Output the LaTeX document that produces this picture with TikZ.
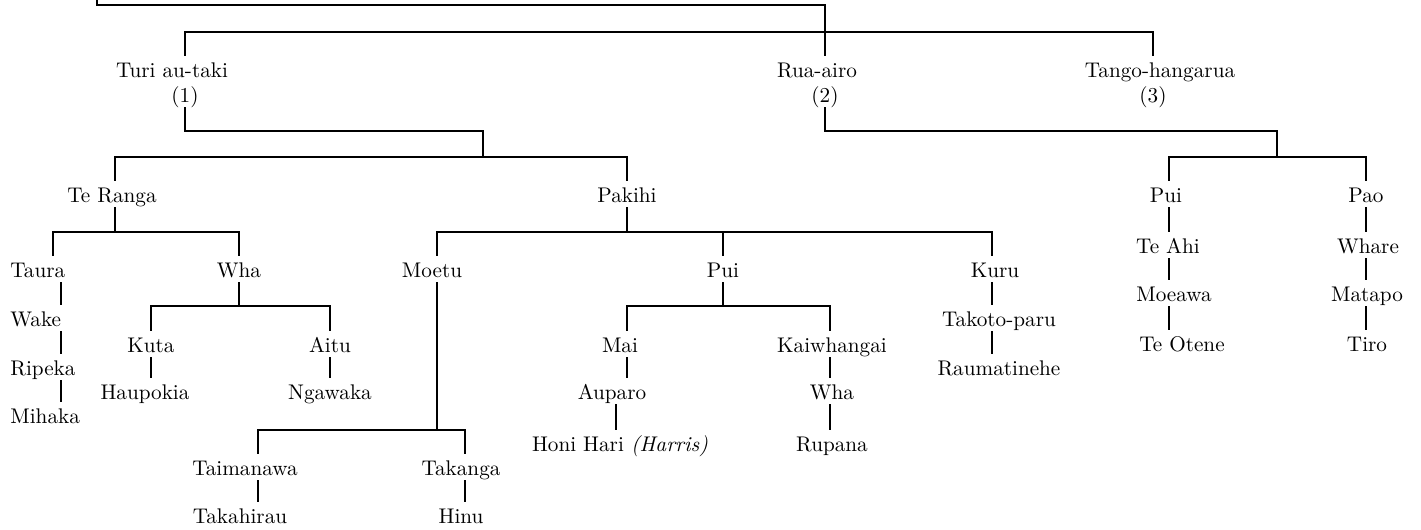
\documentclass[tikz,border=0pt]{standalone}
\usepackage{tikz}

\tikzset{
  who/.style={anchor=base, inner xsep=1pt, inner ysep=2.5pt, text height=8pt, text depth=0pt,
    font=\fontsize{10.6}{12}\selectfont},
  kin/.style={line width=0.95pt},
}

\begin{document}
\begin{tikzpicture}[x=0.5pt,y=-0.5pt]
\useasboundingbox (0,0) rectangle (1421,530);
%
\node[who] (turi) at (172,77) {Turi au-taki};
\node[who] (one) at (185,102) {(1)};
\node[who] (rua) at (817,77) {Rua-airo};
\node[who] (two) at (825,102) {(2)};
\node[who] (tango) at (1160,77) {Tango-hangarua};
\node[who] (three) at (1153,102) {(3)};
%
\node[who] (teranga) at (112,202) {Te Ranga};
\node[who] (pakihi) at (627,202) {Pakihi};
\node[who] (puiB) at (1166,202) {Pui};
\node[who] (pao) at (1366,202) {Pao};
%
\node[who,anchor=base west] (taura) at (8,277) {Taura};
\node[who,anchor=base west] (wake) at (8,326) {Wake};
\node[who,anchor=base west] (ripeka) at (8,375) {Ripeka};
\node[who,anchor=base west] (mihaka) at (8,423) {Mihaka};
\node[who] (wha) at (239,277) {Wha};
\node[who] (kuta) at (151,352) {Kuta};
\node[who] (aitu) at (330,352) {Aitu};
\node[who] (haupokia) at (145,399) {Haupokia};
\node[who] (ngawaka) at (330,399) {Ngawaka};
%
\node[who] (moetu) at (432,277) {Moetu};
\node[who] (taimanawa) at (245,475) {Taimanawa};
\node[who] (takanga) at (461,475) {Takanga};
\node[who] (takahirau) at (240,523) {Takahirau};
\node[who] (hinu) at (461,523) {Hinu};
%
\node[who] (pui) at (723,277) {Pui};
\node[who] (mai) at (620,352) {Mai};
\node[who] (auparo) at (612,399) {Auparo};
\node[who] (honi) at (620,451) {Honi Hari \textit{(Harris)}};
\node[who] (kaiwhangai) at (832,352) {Kaiwhangai};
\node[who] (whaB) at (832,399) {Wha};
\node[who] (rupana) at (832,451) {Rupana};
%
\node[who] (kuru) at (995,277) {Kuru};
\node[who] (takoto) at (999,326) {Takoto-paru};
\node[who] (raumati) at (999,375) {Raumatinehe};
%
\node[who] (teahi) at (1168,253) {Te Ahi};
\node[who] (moeawa) at (1174,301) {Moeawa};
\node[who] (teotene) at (1182,351) {Te Otene};
\node[who] (whare) at (1368,253) {Whare};
\node[who] (matapo) at (1367,301) {Matapo};
\node[who] (tiro) at (1367,351) {Tiro};
%
\coordinate (stub) at (97,0);
\coordinate (b0) at (825,5);
\coordinate (b1) at (825,32);
\draw[kin] (stub) |- (b0) -- (b0 |- rua.north);
\draw[kin] (turi.north -| one) |- (b1) -| (tango.north -| three);
%
\coordinate (b2) at (483,131);
\coordinate (b3) at (483,157);
\draw[kin] (one.south) |- (b2) -- (b3);
\coordinate (xteranga) at (115,0);
\draw[kin] (teranga.north -| xteranga) |- (b3) -| (pakihi.north);
\coordinate (b4) at (1277,131);
\coordinate (b5) at (1277,157);
\draw[kin] (two.south) |- (b4) -- (b5);
\coordinate (xpui) at (1169,0);
\draw[kin] (puiB.north -| xpui) |- (b5) -| (pao.north);
%
\coordinate (b6) at (115,232);
\coordinate (tleft) at (53,232);
\coordinate (tline) at (61,277);
\draw[kin] (teranga.south -| b6) -- (b6);
\draw[kin] (taura.north -| tleft) -- (tleft) -| (wha.north);
\draw[kin] (taura.south -| tline) -- (wake.north -| tline);
\draw[kin] (wake.south -| tline) -- (ripeka.north -| tline);
\draw[kin] (ripeka.south -| tline) -- (mihaka.north -| tline);
\coordinate (b7) at (239,306);
\draw[kin] (wha.south) -- (b7);
\draw[kin] (kuta.north) |- (b7) -| (aitu.north);
\draw[kin] (kuta.south) -- (haupokia.north -| kuta);
\draw[kin] (aitu) -- (ngawaka);
%
\coordinate (b8) at (627,232);
\coordinate (xmoetu) at (437,0);
\coordinate (xkuru) at (992,0);
\draw[kin] (pakihi.south) -- (b8);
\draw[kin] (moetu.north -| xmoetu) |- (b8) -| (kuru.north -| xkuru);
\draw[kin] (pui.north) -- (pui.north |- b8);
\coordinate (b9) at (437,430);
\coordinate (xtaim) at (258,0);
\coordinate (xtak) at (465,0);
\draw[kin] (moetu.south -| xmoetu) -- (b9);
\draw[kin] (taimanawa.north -| xtaim) |- (b9) -| (takanga.north -| xtak);
\draw[kin] (taimanawa.south -| xtaim) -- (takahirau.north -| xtaim);
\draw[kin] (takanga.south -| xtak) -- (hinu.north -| xtak);
\coordinate (b10) at (723,306);
\coordinate (xmai) at (627,0);
\coordinate (xaup) at (616,0);
\coordinate (xkai) at (830,0);
\draw[kin] (pui.south) -- (b10);
\draw[kin] (mai.north -| xmai) |- (b10) -| (kaiwhangai.north -| xkai);
\draw[kin] (mai.south -| xmai) -- (auparo.north -| xmai);
\draw[kin] (auparo.south -| xaup) -- (honi.north -| xaup);
\draw[kin] (kaiwhangai.south -| xkai) -- (whaB.north -| xkai);
\draw[kin] (whaB.south -| xkai) -- (rupana.north -| xkai);
\draw[kin] (kuru.south -| xkuru) -- (takoto.north -| xkuru);
\draw[kin] (takoto.south -| xkuru) -- (raumati.north -| xkuru);
%
\coordinate (xpao) at (1366,0);
\draw[kin] (puiB.south -| xpui) -- (teahi.north -| xpui);
\draw[kin] (teahi.south -| xpui) -- (moeawa.north -| xpui);
\draw[kin] (moeawa.south -| xpui) -- (teotene.north -| xpui);
\draw[kin] (pao.south -| xpao) -- (whare.north -| xpao);
\draw[kin] (whare.south -| xpao) -- (matapo.north -| xpao);
\draw[kin] (matapo.south -| xpao) -- (tiro.north -| xpao);
\end{tikzpicture}
\end{document}
